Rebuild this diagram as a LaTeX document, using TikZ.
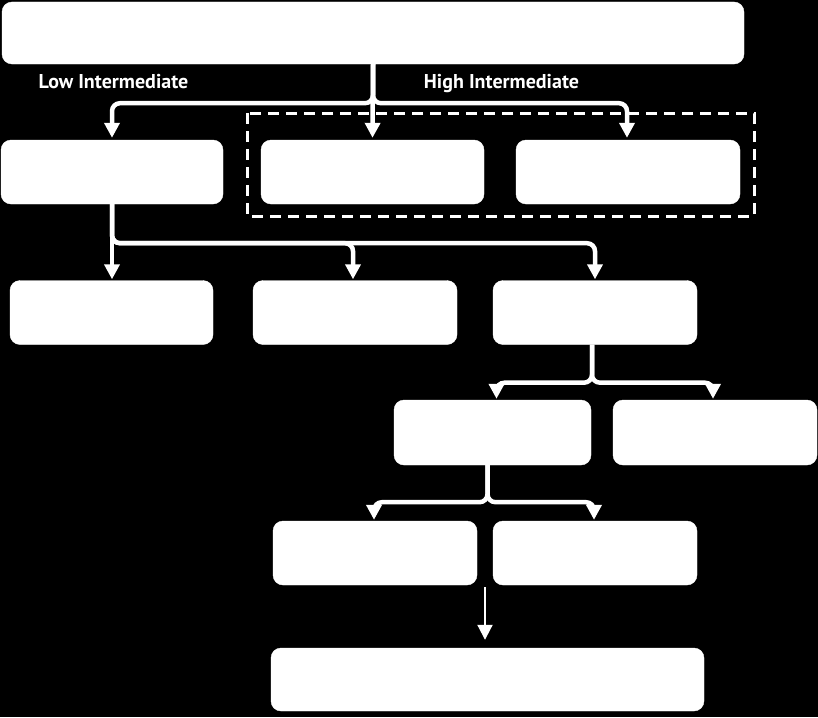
\documentclass[tikz,border=0pt]{standalone}
\usepackage{fontspec}
\setmainfont{PT Sans}
\usetikzlibrary{arrows.meta,calc}
\begin{document}
\begin{tikzpicture}[x=1pt,y=-1pt,
  box/.style={draw=white,fill=white,rounded corners=10pt,inner sep=0pt},
  conn/.style={draw=white,line width=4.5pt,rounded corners=8pt,-{Triangle[width=15pt,length=15pt]}},
  lbl/.style={text=white,font=\bfseries\fontsize{20}{24}\selectfont,inner sep=0pt,anchor=base}]
\fill[black] (0,0) rectangle (818,717);
\useasboundingbox (0,0) rectangle (818,717);
% boxes
\node[box,minimum width=742pt,minimum height=62pt] (top) at (373,33) {};
\node[box,minimum width=222pt,minimum height=64pt] (A) at (112,172) {};
\node[box,minimum width=223pt,minimum height=64pt] (B) at (372.5,172) {};
\node[box,minimum width=224pt,minimum height=64pt] (C) at (628,172) {};
\node[box,minimum width=203pt,minimum height=64pt] (D) at (111.5,312.5) {};
\node[box,minimum width=204pt,minimum height=64pt] (E) at (355,312.5) {};
\node[box,minimum width=204pt,minimum height=64pt] (F) at (595,312.5) {};
\node[box,minimum width=197pt,minimum height=65pt] (G) at (492.5,432.5) {};
\node[box,minimum width=204pt,minimum height=65pt] (H) at (715,432.5) {};
\node[box,minimum width=204pt,minimum height=64pt] (I) at (375,553) {};
\node[box,minimum width=204pt,minimum height=64pt] (J) at (595,553) {};
\node[box,minimum width=433pt,minimum height=63pt] (K) at (487.5,679.5) {};
% dashed group
\draw[white,line width=3pt,dash pattern=on 11pt off 7pt] (247,113) rectangle (754,216);
% labels
\node[lbl] (low) at (113.5,88) {Low Intermediate};
\node[lbl] (high) at (501.5,88) {High Intermediate};
% connectors
\draw[conn] (top.south) -- ++(0,39) -| ($(A.north)+(0,-2)$);
\draw[conn] (top.south) -- ($(B.north)+(0,-2)$);
\draw[conn] (top.south) -- ++(0,39) -| ($(C.north)+(-1,-2)$);
\draw[conn] (A.south) -- ($(A.south |- D.north)+(0,-1)$);
\draw[conn] (A.south) -- ++(0,39) -| ($(E.north)+(-2,-1)$);
\draw[conn] (A.south) -- ++(0,39) -| ($(F.north)+(0,-1)$);
\draw[conn] ($(F.south)+(-3,0)$) -- ++(0,38) -| ($(G.north)+(4,-1)$);
\draw[conn] ($(F.south)+(-3,0)$) -- ++(0,38) -| ($(H.north)+(-2,-1)$);
\draw[conn] ($(G.south)+(-5,0)$) -- ++(0,37) -| ($(I.north)+(-1,-1)$);
\draw[conn] ($(G.south)+(-5,0)$) -- ++(0,37) -| ($(J.north)+(-1,-1)$);
\coordinate (ij) at ($(I.south east)!0.5!(J.south west)+(0,2)$);
\draw[white,line width=2pt,shorten >=8pt,-{Triangle[width=15pt,length=15pt]}] (ij) -- (ij |- K.north);
\end{tikzpicture}
\end{document}
